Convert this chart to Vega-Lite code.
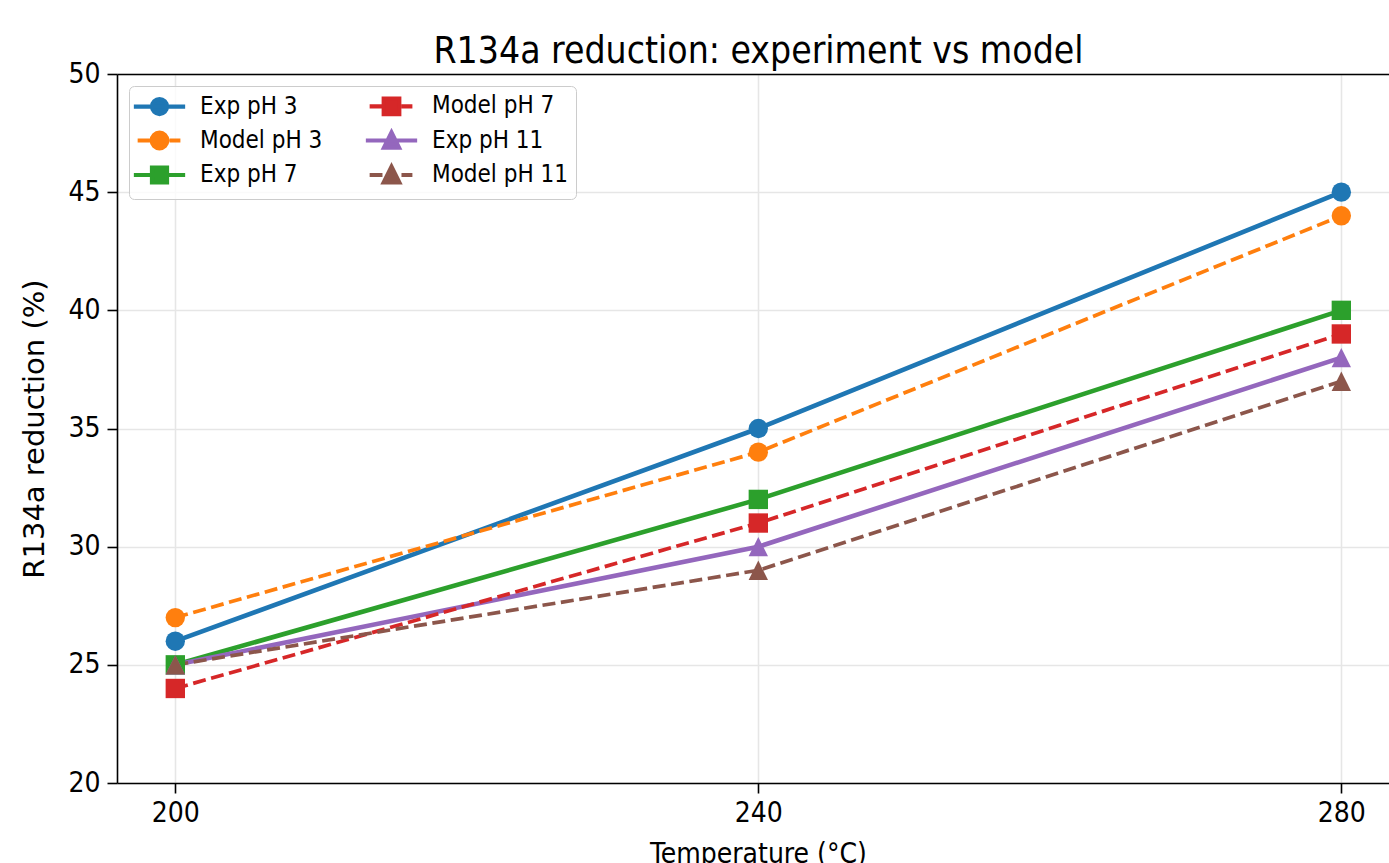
{
  "$schema": "https://vega.github.io/schema/vega-lite/v6.json",
  "width": 1272,
  "height": 709,
  "autosize": {"type": "none"},
  "padding": {"left": 117, "top": 74, "right": 0, "bottom": 80},
  "background": "white",
  "config": {
    "font": "DejaVu Sans Condensed",
    "view": {"stroke": null},
    "axis": {
      "labelFont": "DejaVu Sans Condensed",
      "labelFontSize": 28,
      "labelColor": "black",
      "titleFont": "DejaVu Sans Condensed",
      "titleFontSize": 28,
      "titleFontWeight": "normal",
      "titleColor": "black",
      "domainColor": "black",
      "domainWidth": 1.6,
      "tickColor": "black",
      "tickWidth": 1.6,
      "tickSize": 10,
      "gridColor": "#e6e6e6",
      "gridWidth": 1.6
    }
  },
  "data": {
    "values": [
      {"temp": 200, "value": 26, "series": "Exp pH 3"},
      {"temp": 240, "value": 35, "series": "Exp pH 3"},
      {"temp": 280, "value": 45, "series": "Exp pH 3"},
      {"temp": 200, "value": 27, "series": "Model pH 3"},
      {"temp": 240, "value": 34, "series": "Model pH 3"},
      {"temp": 280, "value": 44, "series": "Model pH 3"},
      {"temp": 200, "value": 25, "series": "Exp pH 7"},
      {"temp": 240, "value": 32, "series": "Exp pH 7"},
      {"temp": 280, "value": 40, "series": "Exp pH 7"},
      {"temp": 200, "value": 24, "series": "Model pH 7"},
      {"temp": 240, "value": 31, "series": "Model pH 7"},
      {"temp": 280, "value": 39, "series": "Model pH 7"},
      {"temp": 200, "value": 25, "series": "Exp pH 11"},
      {"temp": 240, "value": 30, "series": "Exp pH 11"},
      {"temp": 280, "value": 38, "series": "Exp pH 11"},
      {"temp": 200, "value": 25, "series": "Model pH 11"},
      {"temp": 240, "value": 29, "series": "Model pH 11"},
      {"temp": 280, "value": 37, "series": "Model pH 11"}
    ]
  },
  "resolve": {"axis": {"x": "independent"}},
  "layer": [
    {
      "transform": [{"filter": "indexof(datum.series, 'Exp') === 0"}],
      "mark": {"type": "line", "strokeCap": "butt", "strokeWidth": 4.6},
      "encoding": {
        "x": {
          "field": "temp",
          "type": "quantitative",
          "scale": {"domain": [196, 283.27], "nice": false, "zero": false},
          "axis": {
            "orient": "bottom",
            "values": [200, 240, 280],
            "title": "Temperature (°C)",
            "titleX": 641,
            "titleAlign": "center",
            "grid": true,
            "labelPadding": 6,
            "titlePadding": 13
          }
        },
        "y": {
          "field": "value",
          "type": "quantitative",
          "scale": {"domain": [20, 50], "nice": false, "zero": false},
          "axis": {
            "values": [20, 25, 30, 35, 40, 45, 50],
            "title": "R134a reduction (%)",
            "titleFont": "DejaVu Sans",
            "titleFontSize": 29,
            "grid": true,
            "labelPadding": 7,
            "titlePadding": 18
          }
        },
        "color": {
          "field": "series",
          "type": "nominal",
          "scale": {
            "domain": ["Exp pH 3", "Model pH 3", "Exp pH 7", "Model pH 7", "Exp pH 11", "Model pH 11"],
            "range": ["#1f77b4", "#ff7f0e", "#2ca02c", "#d62728", "#9467bd", "#8c564b"]
          }
        }
      }
    },
    {
      "transform": [{"filter": "indexof(datum.series, 'Model') === 0"}],
      "mark": {"type": "line", "strokeCap": "butt", "strokeWidth": 3.7, "strokeDash": [13, 5.6]},
      "encoding": {
        "x": {"field": "temp", "type": "quantitative", "axis": null},
        "y": {"field": "value", "type": "quantitative"},
        "color": {"field": "series", "type": "nominal"}
      }
    },
    {
      "transform": [{"filter": "indexof(datum.series, 'pH 3') >= 0"}],
      "mark": {"type": "point", "shape": "circle", "filled": true, "size": 375, "opacity": 1},
      "encoding": {
        "x": {
          "field": "temp",
          "type": "quantitative",
          "axis": {
            "orient": "top",
            "labels": false,
            "ticks": false,
            "grid": false,
            "domain": true,
            "title": "R134a reduction: experiment vs model",
            "titleFont": "DejaVu Sans Condensed",
            "titleFontSize": 37,
            "titleX": 641,
            "titleAlign": "center",
            "titleBaseline": "alphabetic",
            "titlePadding": 12
          }
        },
        "y": {"field": "value", "type": "quantitative"},
        "color": {
          "field": "series",
          "type": "nominal",
          "legend": {
            "title": null,
            "orient": "none",
            "legendX": 12,
            "legendY": 12,
            "columns": 2,
            "labelFont": "DejaVu Sans Condensed",
            "labelFontSize": 24,
            "labelColor": "black",
            "symbolSize": 361,
            "symbolStrokeWidth": 4.2,
            "padding": 8,
            "strokeColor": "#cccccc",
            "fillColor": "rgba(255,255,255,0.8)",
            "cornerRadius": 5,
            "rowPadding": 0.5,
            "columnPadding": 34,
            "symbolOffset": 10.5,
            "labelOffset": 28.5,
            "encoding": {
              "symbols": {
                "shape": {"value": {"expr": "datum.value === 'Exp pH 3' ? 'M-2.7,0H2.7M0.79,0A0.79,0.79,0,1,1,-0.79,0A0.79,0.79,0,1,1,0.79,0Z' : datum.value === 'Model pH 3' ? 'M-2.3,0H-0.95M1.05,0H2.2M0.82,0A0.82,0.82,0,1,1,-0.82,0A0.82,0.82,0,1,1,0.82,0Z' : datum.value === 'Exp pH 7' ? 'M-2.7,0H2.7M-0.79,-0.79H0.79V0.79H-0.79Z' : datum.value === 'Model pH 7' ? 'M-2.3,0H-0.95M1.05,0H2.2M-0.82,-0.82H0.82V0.82H-0.82Z' : datum.value === 'Exp pH 11' ? 'M-2.7,0H2.7M0,-0.85L0.79,0.75H-0.79Z' : 'M-2.3,0H-0.95M1.05,0H2.2M0,-0.88L0.82,0.77H-0.82Z'"}},
                "stroke": {"value": {"expr": "scale('color', datum.value)"}},
                "fill": {"value": {"expr": "scale('color', datum.value)"}}
              }
            }
          }
        }
      }
    },
    {
      "transform": [{"filter": "indexof(datum.series, 'pH 7') >= 0"}],
      "mark": {"type": "point", "shape": "square", "filled": true, "size": 375, "opacity": 1},
      "encoding": {
        "x": {"field": "temp", "type": "quantitative", "axis": null},
        "y": {"field": "value", "type": "quantitative"},
        "color": {"field": "series", "type": "nominal"}
      }
    },
    {
      "transform": [{"filter": "indexof(datum.series, 'pH 11') >= 0"}],
      "mark": {"type": "point", "shape": "M0,-1L1,1H-1Z", "filled": true, "size": 375, "opacity": 1},
      "encoding": {
        "x": {"field": "temp", "type": "quantitative", "axis": null},
        "y": {"field": "value", "type": "quantitative"},
        "color": {"field": "series", "type": "nominal"}
      }
    }
  ]
}
